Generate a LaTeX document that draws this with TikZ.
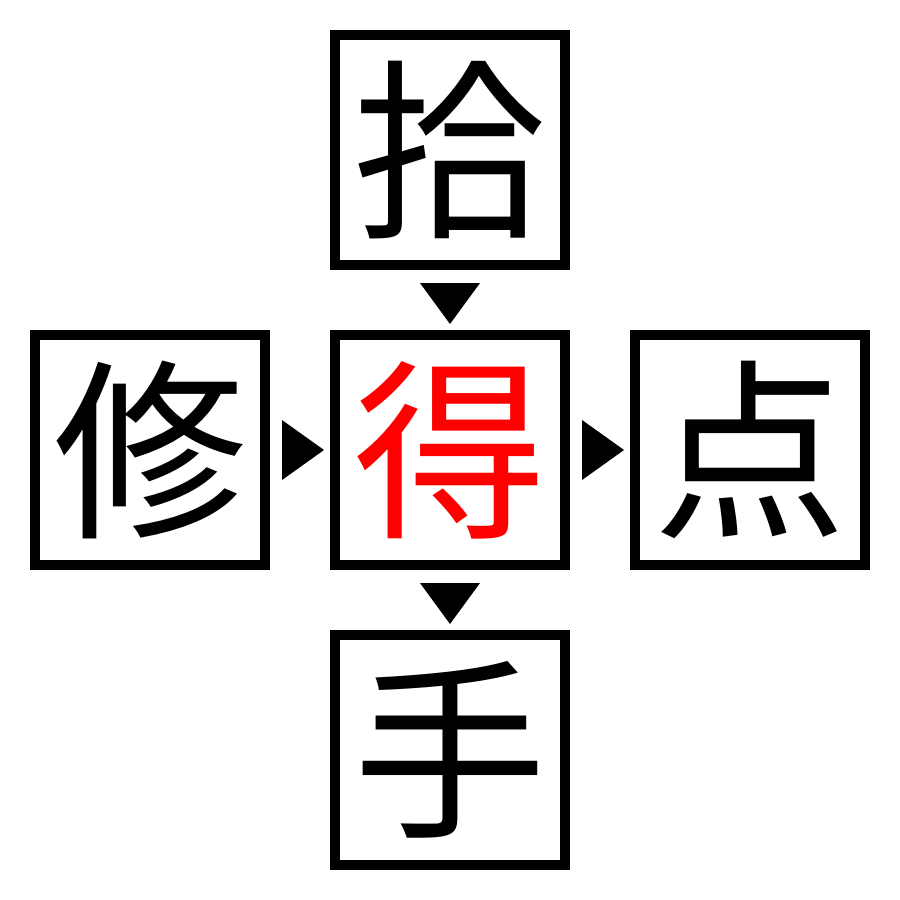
\documentclass[tikz,border=0pt]{standalone}
\usepackage{fontspec}
\newfontfamily\cjk{Noto Sans CJK JP}
\begin{document}
\begin{tikzpicture}[x=0.1mm,y=-0.1mm,
  kbox/.style={draw=black,line width=1mm,minimum size=23mm,inner sep=0pt,font=\cjk\fontsize{55}{55}\selectfont},
  tri/.style={fill=black,draw=none}]
\useasboundingbox (0,0) rectangle (900,900);
\node[kbox] (top) at (450,150) {拾};
\node[kbox] (left) at (150,450) {修};
\node[kbox,text=red] (mid) at (450,450) {得};
\node[kbox] (right) at (750,450) {点};
\node[kbox] (bot) at (450,750) {手};
\coordinate (t1) at (420,283);
\coordinate (t2) at (480,283);
\coordinate (t3) at (450,324);
\fill[tri] (t1) -- (t2) -- (t3) -- cycle;
\coordinate (b1) at (420,583);
\coordinate (b2) at (480,583);
\coordinate (b3) at (450,624);
\fill[tri] (b1) -- (b2) -- (b3) -- cycle;
\coordinate (l1) at (282,420);
\coordinate (l2) at (282,480);
\coordinate (l3) at (324,450);
\fill[tri] (l1) -- (l2) -- (l3) -- cycle;
\coordinate (r1) at (582,420);
\coordinate (r2) at (582,480);
\coordinate (r3) at (624,450);
\fill[tri] (r1) -- (r2) -- (r3) -- cycle;
\end{tikzpicture}
\end{document}
